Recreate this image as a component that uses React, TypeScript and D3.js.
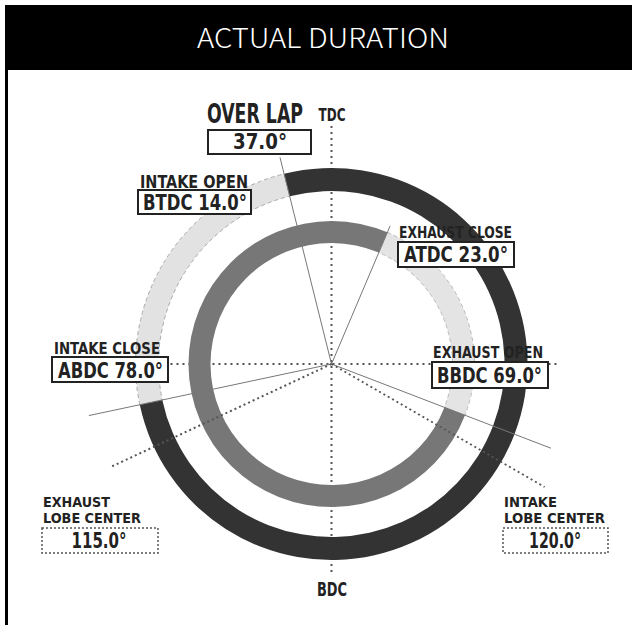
import React from "react";
import * as d3 from "d3";

// ---- data ----
const title = "ACTUAL DURATION";
const eventNames = ["INTAKE OPEN", "EXHAUST CLOSE", "INTAKE CLOSE", "EXHAUST OPEN"];
const eventRefs = ["BTDC", "ATDC", "ABDC", "BBDC"];
const eventDegrees = [14.0, 23.0, 78.0, 69.0];
const overlapDeg = 37.0;
const lobeNames = [["EXHAUST", "LOBE CENTER"], ["INTAKE", "LOBE CENTER"]];
const lobeDegrees = [115.0, 120.0];
const deadCenters = ["TDC", "BDC"];

// crank angles measured clockwise from TDC
const intakeOpenAng = -eventDegrees[0];
const exhaustCloseAng = eventDegrees[1];
const intakeCloseAng = 180 + eventDegrees[2];
const exhaustOpenAng = 180 - eventDegrees[3];
const exhaustLobeAng = 360 - lobeDegrees[0];
const intakeLobeAng = lobeDegrees[1];

const W = 632, H = 625;
const cx = 331.5, cy = 364;
const rad = d3.scaleLinear().domain([0, 360]).range([0, 2 * Math.PI]);

const FONT = "'Liberation Sans Narrow', 'DejaVu Sans Condensed', 'Arial Narrow', sans-serif";
const INK = "#222";

function pt(angDeg: number, r: number) {
  const a = rad(angDeg);
  return [cx + r * Math.sin(a), cy - r * Math.cos(a)];
}

function Ray({ ang, r, dotted }: { ang: number; r: number; dotted?: boolean }) {
  const [x, y] = pt(ang, r);
  return (
    <line x1={cx} y1={cy} x2={x} y2={y}
      stroke={dotted ? "#555" : "#777"}
      strokeWidth={dotted ? 2 : 1}
      strokeDasharray={dotted ? "2,3" : undefined} />
  );
}

function T({ x, y, len, size, children, anchor = "start", weight = 700, family = FONT, fill = INK }: any) {
  return (
    <text x={x} y={y} fontSize={size} fontFamily={family} fontWeight={weight} fill={fill}
      textAnchor={anchor} textLength={len} lengthAdjust="spacingAndGlyphs">{children}</text>
  );
}

export default function App() {
  const arc = d3.arc<any>();
  const outer = { innerRadius: 173, outerRadius: 196 };
  const inner = { innerRadius: 121, outerRadius: 143 };
  const intakeDark = arc({ ...outer, startAngle: rad(intakeOpenAng), endAngle: rad(intakeCloseAng) }) as string;
  const intakeLight = arc({ ...outer, startAngle: rad(intakeCloseAng), endAngle: rad(360 + intakeOpenAng) }) as string;
  const exhaustDark = arc({ ...inner, startAngle: rad(exhaustOpenAng), endAngle: rad(360 + exhaustCloseAng) }) as string;
  const exhaustLight = arc({ ...inner, startAngle: rad(exhaustCloseAng), endAngle: rad(exhaustOpenAng) }) as string;

  const fmt = (v: number) => v.toFixed(1) + "°";

  return (
    <svg width={W} height={H} style={{ position: "absolute", left: 0, top: 0, background: "#fff" }}>
      {/* frame + header */}
      <rect x={5} y={5} width={W} height={65} fill="#000" />
      <rect x={5} y={5} width={3} height={H} fill="#000" />
      <T x={323} y={48} len={252} size={27} anchor="middle" weight={300}
        family="'Noto Sans CJK JP', 'Noto Sans', sans-serif" fill="#fff">{title}</T>

      {/* TDC-BDC and horizontal dotted axes */}
      <line x1={cx} y1={126} x2={cx} y2={574} stroke="#555" strokeWidth={2} strokeDasharray="2,4" />
      <line x1={cx - 215} y1={cy} x2={cx + 225} y2={cy} stroke="#555" strokeWidth={2} strokeDasharray="2,4" />

      {/* rings */}
      <path d={intakeLight} transform={`translate(${cx},${cy})`} fill="#e2e2e2" stroke="#aaa" strokeWidth={1} strokeDasharray="4,3" />
      <path d={intakeDark} transform={`translate(${cx},${cy})`} fill="#333" />
      <path d={exhaustLight} transform={`translate(${cx},${cy})`} fill="#e4e4e4" stroke="#bbb" strokeWidth={1} strokeDasharray="4,3" />
      <path d={exhaustDark} transform={`translate(${cx},${cy})`} fill="#777" />

      {/* event rays */}
      <Ray ang={intakeOpenAng} r={213} />
      <Ray ang={exhaustCloseAng} r={150} />
      <Ray ang={intakeCloseAng} r={248} />
      <Ray ang={exhaustOpenAng} r={235} />
      <Ray ang={exhaustLobeAng} r={244} dotted />
      <Ray ang={intakeLobeAng} r={246} dotted />

      {/* TDC / BDC */}
      <T x={332} y={121} len={27} size={18} anchor="middle">{deadCenters[0]}</T>
      <T x={332} y={596} len={30} size={20} anchor="middle">{deadCenters[1]}</T>

      {/* overlap */}
      <T x={207} y={123} len={96} size={26}>OVER LAP</T>
      <rect x={208} y={130} width={103} height={24} fill="#fff" stroke={INK} strokeWidth={2} />
      <T x={260} y={149} len={54} size={22} anchor="middle">{fmt(overlapDeg)}</T>

      {/* intake open */}
      <T x={140} y={188} len={108} size={17}>{eventNames[0]}</T>
      <rect x={138} y={190} width={113} height={24} fill="#fff" stroke={INK} strokeWidth={2} />
      <T x={143} y={210} len={104} size={22}>{`${eventRefs[0]} ${fmt(eventDegrees[0])}`}</T>

      {/* exhaust close */}
      <T x={399} y={238} len={113} size={16}>{eventNames[1]}</T>
      <rect x={398} y={242} width={116} height={25} fill="#fff" stroke={INK} strokeWidth={2} />
      <T x={404} y={262} len={104} size={22}>{`${eventRefs[1]} ${fmt(eventDegrees[1])}`}</T>

      {/* intake close */}
      <T x={54} y={354} len={106} size={16}>{eventNames[2]}</T>
      <rect x={52} y={357} width={116} height={25} fill="#fff" stroke={INK} strokeWidth={2} />
      <T x={58} y={378} len={105} size={22}>{`${eventRefs[2]} ${fmt(eventDegrees[2])}`}</T>

      {/* exhaust open */}
      <T x={433} y={358} len={110} size={16}>{eventNames[3]}</T>
      <rect x={432} y={362} width={116} height={26} fill="#fff" stroke={INK} strokeWidth={2} />
      <T x={437} y={383} len={105} size={22}>{`${eventRefs[3]} ${fmt(eventDegrees[3])}`}</T>

      {/* lobe centers */}
      <T x={43} y={507} len={67} size={14}>{lobeNames[0][0]}</T>
      <T x={43} y={523} len={98} size={14}>{lobeNames[0][1]}</T>
      <rect x={42} y={528} width={116} height={25} fill="#fff" stroke="#555" strokeWidth={1.5} strokeDasharray="2,2" />
      <T x={99} y={548} len={55} size={21} anchor="middle">{fmt(lobeDegrees[0])}</T>

      <T x={504} y={507} len={53} size={14}>{lobeNames[1][0]}</T>
      <T x={504} y={523} len={101} size={14}>{lobeNames[1][1]}</T>
      <rect x={503} y={528} width={105} height={25} fill="#fff" stroke="#555" strokeWidth={1.5} strokeDasharray="2,2" />
      <T x={555} y={548} len={52} size={21} anchor="middle">{fmt(lobeDegrees[1])}</T>
    </svg>
  );
}
